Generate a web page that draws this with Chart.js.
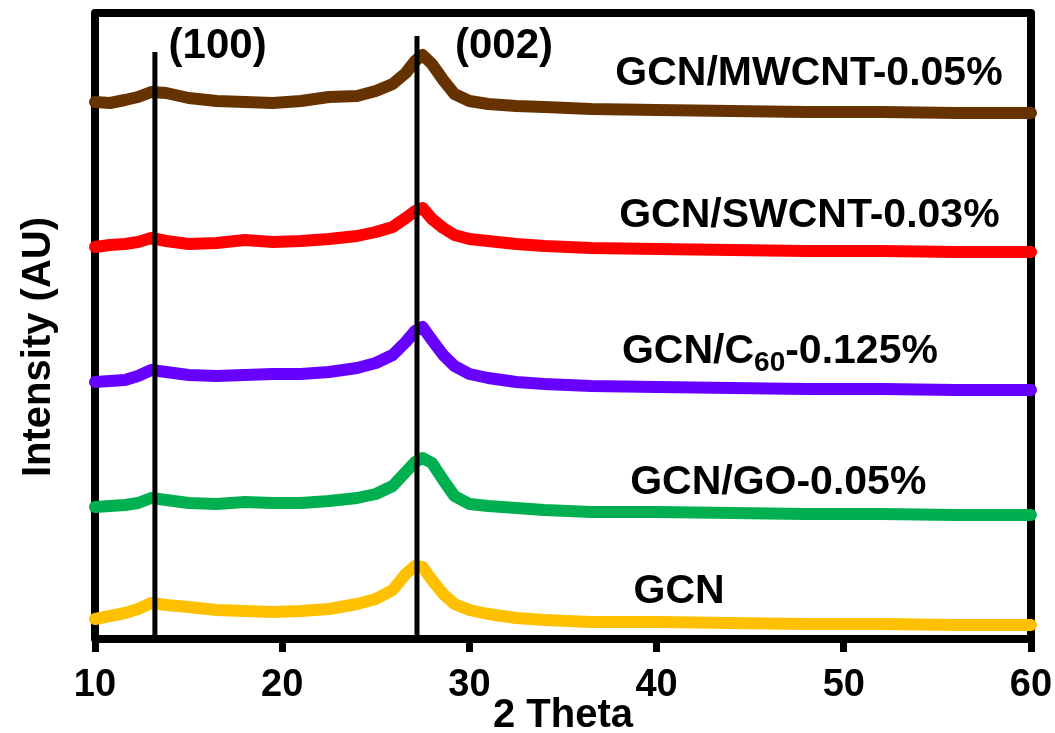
<!DOCTYPE html>
<html>
<head>
<meta charset="utf-8">
<title>XRD patterns</title>
<script src="https://cdn.jsdelivr.net/npm/chart.js@4.4.1/dist/chart.umd.min.js"></script>
<style>
    html, body { margin: 0; padding: 0; background: #fff; }
    #wrap { width: 1055px; height: 733px; }
</style>
</head>
<body>
<div id="wrap"><canvas id="xrd_chart" width="1055" height="733"></canvas></div>
<script>
var twoTheta = [10, 10.8, 11.6, 12.3, 13.0, 13.8, 15.0, 16.5, 18.0, 19.5, 21.0, 22.5, 24.0, 25.0, 25.9, 26.6,
                27.1, 27.5, 28.0, 28.6, 29.2, 30.0, 31.0, 32.5, 34.0, 36.5, 40.0, 44.0, 48.0, 52.0, 56.0, 60.0];

// intensities (arbitrary units, curves stacked with offsets as in the figure)
var mwcnt = [537, 536, 539, 542, 547, 546, 541, 538, 537, 536, 538, 542, 543, 548, 555, 566,
             578, 584, 575, 559, 545, 538, 535, 533, 532, 530, 529, 528, 527, 527, 526, 526];
var swcnt = [392, 394, 395, 397, 401, 398, 395, 396, 399, 397, 398, 400, 403, 407, 412, 421,
             428, 431, 420, 411, 404, 400, 398, 395, 393, 391, 390, 389, 388, 388, 387, 387];
var c60 = [257, 258, 259, 263, 269, 267, 264, 263, 264, 265, 265, 267, 271, 276, 284, 297,
           308, 312, 299, 284, 273, 265, 261, 257, 255, 253, 252, 251, 250, 250, 249, 249];
var go = [132, 133, 134, 136, 141, 139, 136, 135, 137, 136, 136, 138, 141, 145, 153, 167,
          177, 181, 176, 159, 143, 135, 133, 131, 129, 127, 127, 126, 125, 125, 124, 124];
var gcn = [20, 23, 26, 30, 36, 34, 32, 29, 28, 27, 28, 30, 35, 40, 49, 65,
           73, 72, 59, 45, 35, 29, 25, 21, 19, 17, 17, 16, 15, 15, 14, 14];

// reference lines for the (100) and (002) planes
var planeLabels = ['(100)', '(002)'];
var planeX = [13.2, 27.2];
var planeTop = [587, 603];

var xTicks = [10, 20, 30, 40, 50, 60];

var FONT = "'Liberation Sans', Arial, sans-serif";

function points(arr) {
    var out = [];
    for (var i = 0; i < twoTheta.length; i++) {
        out.push({ x: twoTheta[i], y: arr[i] });
    }
    return out;
}

function curve(label, arr, color) {
    return {
        label: label,
        data: points(arr),
        borderColor: color,
        backgroundColor: color,
        borderWidth: 12,
        borderCapStyle: 'round',
        borderJoinStyle: 'round',
        pointRadius: 0,
        tension: 0,
        clip: false
    };
}

var datasets = [];
// black plane lines first so they end up on top
for (var i = 0; i < planeX.length; i++) {
    datasets.push({
        label: planeLabels[i],
        data: [{ x: planeX[i], y: 0 }, { x: planeX[i], y: planeTop[i] }],
        borderColor: '#000',
        borderWidth: 5,
        pointRadius: 0,
        clip: false
    });
}
datasets.push(curve('GCN/MWCNT-0.05%', mwcnt, '#663300'));
datasets.push(curve('GCN/SWCNT-0.03%', swcnt, '#ff0000'));
datasets.push(curve('GCN/C60-0.125%', c60, '#6600ff'));
datasets.push(curve('GCN/GO-0.05%', go, '#00b050'));
datasets.push(curve('GCN', gcn, '#ffc000'));

// thick box round the plot
var framePlugin = {
    id: 'frame',
    beforeDatasetsDraw: function (chart) {
        var a = chart.chartArea;
        var ctx = chart.ctx;
        ctx.save();
        ctx.lineWidth = 8;
        ctx.lineJoin = 'round';
        ctx.strokeStyle = '#000';
        ctx.strokeRect(a.left, a.top, a.right - a.left, a.bottom - a.top);
        ctx.restore();
    }
};

// curve names, plane labels and the y title
var textPlugin = {
    id: 'texts',
    afterDatasetsDraw: function (chart) {
        var ctx = chart.ctx;
        var xs = chart.scales.x;
        var ys = chart.scales.y;
        ctx.save();
        ctx.fillStyle = '#000';
        ctx.textBaseline = 'middle';
        ctx.textAlign = 'center';

        ctx.font = 'bold 42px ' + FONT;
        ctx.fillText(planeLabels[0], xs.getPixelForValue(16.55), ys.getPixelForValue(593));
        ctx.fillText(planeLabels[1], xs.getPixelForValue(31.85), ys.getPixelForValue(593));

        ctx.font = 'bold 41px ' + FONT;
        ctx.fillText('GCN/MWCNT-0.05%', xs.getPixelForValue(48.14), ys.getPixelForValue(565));
        ctx.fillText('GCN/SWCNT-0.03%', xs.getPixelForValue(48.16), ys.getPixelForValue(423));
        ctx.fillText('GCN/GO-0.05%', xs.getPixelForValue(46.5), ys.getPixelForValue(156));
        ctx.fillText('GCN', xs.getPixelForValue(41.2), ys.getPixelForValue(47));

        // C60 label with subscript
        ctx.textAlign = 'left';
        var x0 = xs.getPixelForValue(38.15);
        var y0 = ys.getPixelForValue(287);
        ctx.fillText('GCN/C', x0, y0);
        x0 += ctx.measureText('GCN/C').width;
        ctx.font = 'bold 28px ' + FONT;
        ctx.fillText('60', x0, y0 + 11);
        x0 += ctx.measureText('60').width;
        ctx.font = 'bold 41px ' + FONT;
        ctx.fillText('-0.125%', x0, y0);

        // y axis title
        ctx.translate(39, 347);
        ctx.rotate(-Math.PI / 2);
        ctx.textAlign = 'center';
        ctx.font = 'bold 40px ' + FONT;
        ctx.fillText('Intensity (AU)', 0, 0);
        ctx.restore();
    }
};

var ctx = document.getElementById('xrd_chart').getContext('2d');
var chart = new Chart(ctx, {
    type: 'line',
    data: { datasets: datasets },
    options: {
        responsive: false,
        animation: false,
        layout: { padding: { left: 95, top: 13, right: 24, bottom: 0 } },
        plugins: {
            legend: { display: false },
            tooltip: { enabled: false }
        },
        scales: {
            x: {
                type: 'linear',
                min: 10,
                max: 60,
                afterFit: function (scale) {
                    scale.height = 94;
                    // the layout padding already leaves room for the end labels
                    scale.paddingLeft = 0;
                    scale.paddingRight = 0;
                },
                afterBuildTicks: function (scale) {
                    scale.ticks = xTicks.map(function (v) { return { value: v }; });
                },
                ticks: {
                    color: '#000',
                    padding: 11,
                    maxRotation: 0,
                    font: { family: FONT, size: 38, weight: 'bold' }
                },
                grid: {
                    display: true,
                    drawOnChartArea: false,
                    drawTicks: true,
                    tickLength: 13,
                    tickWidth: 7,
                    tickColor: '#000'
                },
                border: { display: false },
                title: {
                    display: true,
                    text: '2 Theta',
                    color: '#000',
                    font: { family: FONT, size: 40, weight: 'bold', lineHeight: 1 },
                    padding: { top: 0, bottom: -3 }
                }
            },
            y: {
                display: false,
                min: 0,
                max: 626
            }
        }
    },
    plugins: [framePlugin, textPlugin]
});
</script>
</body>
</html>
